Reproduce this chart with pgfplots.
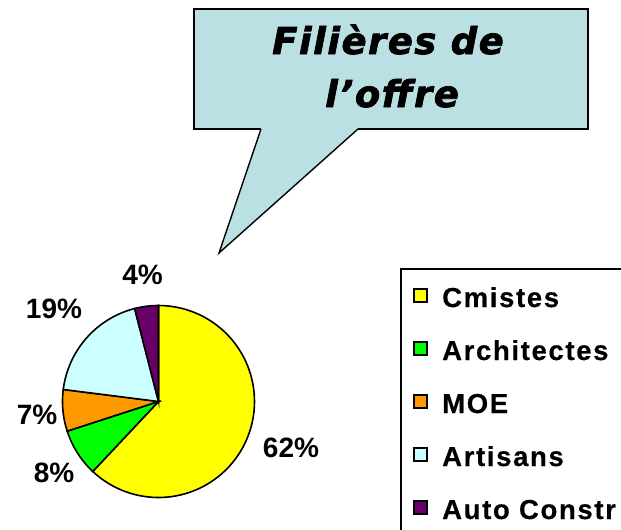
\documentclass[border=0pt]{standalone}
\usepackage{pgfplots}
\pgfplotsset{compat=1.18}
\usepackage{pgfplotstable}
\usepackage{fontspec}
\setmainfont{Liberation Sans}
\newfontfamily\titlefont{DejaVu Sans}
\definecolor{callout}{HTML}{BBE0E3}
\definecolor{cyel}{HTML}{FFFF00}
\definecolor{cgreen}{HTML}{00FF00}
\definecolor{corange}{HTML}{FF9900}
\definecolor{ccyan}{HTML}{CCFFFF}
\definecolor{cpurple}{HTML}{660066}
\pgfplotstableread{
label value
Cmistes 62
Architectes 8
MOE 7
Artisans 19
AutoConstr 4
}\piedata
\begin{document}
\begin{tikzpicture}
\pgfplotstablegetelem{0}{value}\of\piedata \let\vA\pgfplotsretval
\pgfplotstablegetelem{1}{value}\of\piedata \let\vB\pgfplotsretval
\pgfplotstablegetelem{2}{value}\of\piedata \let\vC\pgfplotsretval
\pgfplotstablegetelem{3}{value}\of\piedata \let\vD\pgfplotsretval
\pgfplotstablegetelem{4}{value}\of\piedata \let\vE\pgfplotsretval
\pgfmathsetmacro\aA{90}
\pgfmathsetmacro\aB{\aA-3.6*\vA}
\pgfmathsetmacro\aC{\aB-3.6*\vB}
\pgfmathsetmacro\aD{\aC-3.6*\vC}
\pgfmathsetmacro\aE{\aD-3.6*\vD}
\pgfmathsetmacro\aF{\aE-3.6*\vE}
\def\cx{158.5}\def\cy{401.5}\def\rr{96}
\begin{axis}[hide axis, scale only axis, width=621bp, height=530bp,
  xmin=0, xmax=621, ymin=0, ymax=530, y dir=reverse, clip=false,
  anchor=north west, at={(0,0)}]
% callout
\fill[callout] (194,9) -- (588,9) -- (588,129) -- (358,129) -- (219,253) -- (261,129) -- (194,129) -- cycle;
\draw[line width=1.4bp, line join=miter] (358,129) -- (219,253) -- (261,129);
\draw[line width=2.6bp, line join=miter] (261,129) -- (194,129) -- (194,9) -- (588,9) -- (588,129) -- (358,129);
\node[anchor=base, font=\titlefont\bfseries\itshape\addfontfeature{LetterSpace=4,FakeBold=2}\fontsize{37bp}{40bp}\selectfont] at (388,54) {Filières de};
\node[anchor=base, font=\titlefont\bfseries\itshape\addfontfeature{LetterSpace=4,FakeBold=2}\fontsize{37bp}{40bp}\selectfont] at (392,107) {l’offre};
% pie
\addplot[fill=cyel, draw=black, line width=1.6bp, domain=\aB:\aA, samples=80, variable=\t]
  ({\cx+\rr*cos(\t)},{\cy-\rr*sin(\t)}) -- (\cx,\cy) -- cycle;
\addplot[fill=cgreen, draw=black, line width=1.6bp, domain=\aC:\aB, samples=20, variable=\t]
  ({\cx+\rr*cos(\t)},{\cy-\rr*sin(\t)}) -- (\cx,\cy) -- cycle;
\addplot[fill=corange, draw=black, line width=1.6bp, domain=\aD:\aC, samples=20, variable=\t]
  ({\cx+\rr*cos(\t)},{\cy-\rr*sin(\t)}) -- (\cx,\cy) -- cycle;
\addplot[fill=ccyan, draw=black, line width=1.6bp, domain=\aE:\aD, samples=40, variable=\t]
  ({\cx+\rr*cos(\t)},{\cy-\rr*sin(\t)}) -- (\cx,\cy) -- cycle;
\addplot[fill=cpurple, draw=black, line width=1.6bp, domain=\aF:\aE, samples=10, variable=\t]
  ({\cx+\rr*cos(\t)},{\cy-\rr*sin(\t)}) -- (\cx,\cy) -- cycle;
% percentage labels
\begin{scope}[every node/.style={font=\bfseries\fontsize{28bp}{32bp}\selectfont, inner sep=0pt}]
\node at (142.5,275) {4\%};
\node at (54,309) {19\%};
\node at (37,415) {7\%};
\node at (54,473) {8\%};
\node at (291,448) {62\%};
\end{scope}
% legend
\draw[line width=2bp] (401,269) rectangle (660,570);
\begin{scope}[every node/.style={font=\bfseries\addfontfeature{LetterSpace=6,FakeBold=0.4}\fontsize{27.5bp}{30bp}\selectfont, inner sep=0pt, anchor=base west}]
\draw[fill=cyel, line width=1.6bp] (414,289) rectangle (427,302);
\node at (442,307) {Cmistes};
\draw[fill=cgreen, line width=1.6bp] (414,342) rectangle (427,355);
\node at (442,360) {Architectes};
\draw[fill=corange, line width=1.6bp] (414,395) rectangle (427,408);
\node at (442,413) {MOE};
\draw[fill=ccyan, line width=1.6bp] (414,448) rectangle (427,461);
\node at (442,466) {Artisans};
\draw[fill=cpurple, line width=1.6bp] (414,501) rectangle (427,514);
\node at (442,519) {Auto Constr};
\end{scope}
\end{axis}
\pgfresetboundingbox
\useasboundingbox (0,0) rectangle (621bp,-530bp);
\end{tikzpicture}
\end{document}
